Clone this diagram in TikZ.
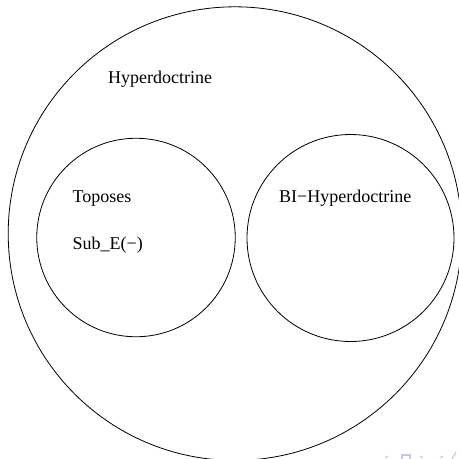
\documentclass[tikz,border=0pt]{standalone}
\usepackage{fontspec}
\setmainfont{Liberation Serif}
\begin{document}
\begin{tikzpicture}[x=1pt,y=1pt,
  ring/.style={draw=black,line width=0.8pt},
  lbl/.style={anchor=base west,inner sep=0pt,font=\fontsize{18}{20}\selectfont},
  navmark/.style={draw={rgb,255:red,200;green,200;blue,230},line width=1.2pt}]
\useasboundingbox (0,0) rectangle (459,-459);
\begin{scope}
\clip (0,0) rectangle (459,-459);
\node[ring,circle,minimum size=453.6pt,inner sep=0pt] (outer) at (235,-233.6) {};
\node[ring,circle,minimum size=198.5pt,inner sep=0pt] (left) at (136,-237.5) {};
\node[ring,circle,minimum size=207pt,inner sep=0pt] (right) at (350.5,-238) {};
\node[lbl] (hyp) at (108,-83) {Hyperdoctrine};
\node[lbl] (top) at (72.5,-202) {Toposes};
\node[lbl] (sub) at (72.5,-249.5) {Sub\_E(−)};
\node[lbl] (bih) at (279,-202) {BI−Hyperdoctrine};
% faint navigation marks
\draw[navmark] (385,-458) -- (388,-456);
\draw[navmark] (402,-459) -- (402,-455) -- (410,-455) -- (410,-459);
\draw[navmark] (420,-456) -- (423,-458);
\draw[navmark] (440,-458) -- (443,-456);
\draw[navmark] (452,-459) -- (456,-452);
\end{scope}
\end{tikzpicture}
\end{document}
